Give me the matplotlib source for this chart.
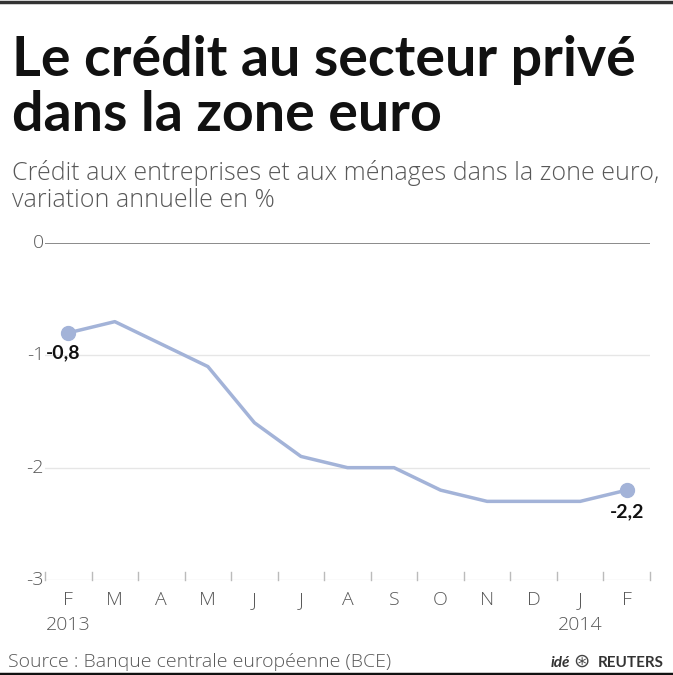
import matplotlib
matplotlib.use("Agg")
import matplotlib.pyplot as plt
from matplotlib.lines import Line2D

months = ["F", "M", "A", "M", "J", "J", "A", "S", "O", "N", "D", "J", "F"]
credit = [-0.8, -0.7, -0.9, -1.1, -1.6, -1.9, -2.0, -2.0, -2.2, -2.3, -2.3, -2.3, -2.2]
yticks = [0, -1, -2, -3]
ytick_labels = ["0", "-1", "-2", "-3"]
years = {0: "2013", 11: "2014"}

line_color = "#a3b3d8"

fig = plt.figure(figsize=(6.73, 6.75), dpi=100)
ax = fig.add_axes([45 / 673, 1 - 580 / 675, 605 / 673, 337 / 675])

# gridlines
for v in yticks:
    col = "#777777" if v == 0 else "#e6e6e6"
    ax.axhline(v, color=col, lw=1.2 if v == 0 else 1.0, zorder=1)

x = list(range(len(credit)))
ax.plot(x, credit, color=line_color, lw=2.5, zorder=3, clip_on=False)
ax.plot([x[0], x[-1]], [credit[0], credit[-1]], "o", color=line_color,
        ms=10, zorder=4, clip_on=False)

ax.set_xlim(-0.5, len(credit) - 0.5)
ax.set_ylim(-3, 0)
for s in ax.spines.values():
    s.set_visible(False)
ax.set_xticks([])
ax.set_yticks([])

# month boundary ticks on the bottom line
for i in range(len(credit) + 1):
    ax.plot([i - 0.5, i - 0.5], [-3, -2.93], color="#bbbbbb", lw=1, clip_on=False)

tf = dict(family="Open Sans", fontweight="light", color="#585858")
for v, lab in zip(yticks, ytick_labels):
    ax.text(-0.52, v, lab, ha="right", va="center", fontsize=14, **tf)
for i, m in enumerate(months):
    ax.text(i, -3.1, m, ha="center", va="top", fontsize=14, **tf)
for i, yr in years.items():
    ax.text(i, -3.32, yr, ha="center", va="top", fontsize=14, **tf)

# end labels
ax.text(x[0] - 0.48, credit[0] - 0.1, f"{credit[0]:.1f}".replace(".", ","),
        ha="left", va="top", fontsize=14, fontweight="bold", family="Lato", color="#111111")
ax.text(x[-1], credit[-1] - 0.12, f"{credit[-1]:.1f}".replace(".", ","),
        ha="center", va="top", fontsize=14, fontweight="bold", family="Lato", color="#111111")

# titles
fig.text(12 / 673, 1 - 76 / 675, "Le crédit au secteur privé", fontsize=40,
         fontweight="bold", family="Lato", color="#111111", va="baseline")
fig.text(12 / 673, 1 - 131 / 675, "dans la zone euro", fontsize=40,
         fontweight="bold", family="Lato", color="#111111", va="baseline")
fig.text(12 / 673, 1 - 180 / 675, "Crédit aux entreprises et aux ménages dans la zone euro,",
         fontsize=18, va="baseline", **tf)
fig.text(12 / 673, 1 - 207 / 675, "variation annuelle en %",
         fontsize=18, va="baseline", **tf)

fig.text(8 / 673, 1 - 667 / 675, "Source : Banque centrale européenne (BCE)",
         fontsize=14, va="baseline", **tf)
fig.text(664 / 673, 1 - 667 / 675, "REUTERS", fontsize=11, fontweight="bold",
         family="Lato", color="#333333", ha="right", va="baseline")
fig.text(581 / 673, 1 - 667 / 675, "⊛", fontsize=14, family="DejaVu Sans",
         color="#444444", ha="center", va="baseline")
fig.text(570 / 673, 1 - 667 / 675, "idé", fontsize=11, fontweight="bold",
         style="italic", family="Lato", color="#333333", ha="right", va="baseline")

# top and bottom frame bars
fig.add_artist(Line2D([0, 1], [1 - 1.5 / 675, 1 - 1.5 / 675], color="#333333", lw=2.5))
fig.add_artist(Line2D([0, 1], [1.5 / 675, 1.5 / 675], color="#111111", lw=2.5))

fig.savefig("out.png", dpi=100)
